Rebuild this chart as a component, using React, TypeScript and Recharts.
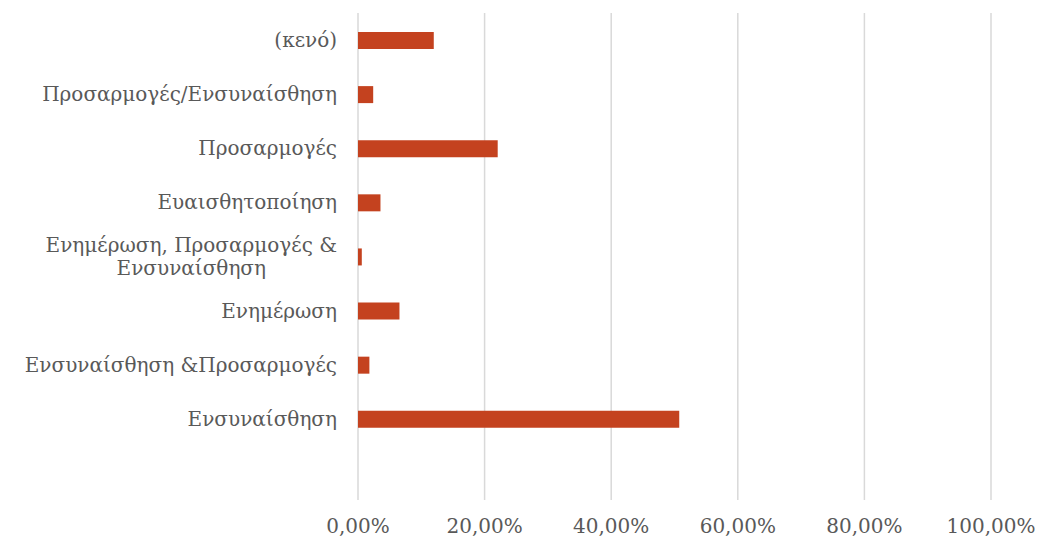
import React from 'react';
import { BarChart, Bar, XAxis, YAxis, CartesianGrid } from 'recharts';

const categories = [
  '(κενό)',
  'Προσαρμογές/Ενσυναίσθηση',
  'Προσαρμογές',
  'Ευαισθητοποίηση',
  'Ενημέρωση, Προσαρμογές &\nΕνσυναίσθηση',
  'Ενημέρωση',
  'Ενσυναίσθηση &Προσαρμογές',
  'Ενσυναίσθηση',
  '',
];
const shares = [0.1197, 0.024, 0.2207, 0.0355, 0.006, 0.0655, 0.018, 0.5075, null];
const xTicks = [0, 0.2, 0.4, 0.6, 0.8, 1];

const data = categories.map((name, i) => ({ name, value: shares[i] }));

const FONT = '"DejaVu Serif", serif';
const FONT_SIZE = 20;
const TEXT = '#595959';

let ctx: CanvasRenderingContext2D | null = null;
const measure = (s: string) => {
  if (!ctx) {
    ctx = document.createElement('canvas').getContext('2d');
    if (ctx) ctx.font = `${FONT_SIZE}px "DejaVu Serif"`;
  }
  return ctx ? ctx.measureText(s).width : s.length * 11;
};

const CategoryTick = (props: any) => {
  const { x, y, payload } = props;
  const lines: string[] = String(payload.value).split('\n');
  if (lines.length === 1) {
    return (
      <text x={x} y={y} dy={7} textAnchor="end" fill={TEXT} fontSize={FONT_SIZE} fontFamily={FONT}>
        {lines[0]}
      </text>
    );
  }
  const widest = Math.max(...lines.map(measure));
  const cx = x - widest / 2;
  const lh = 23;
  const start = y + 7 - ((lines.length - 1) * lh) / 2;
  return (
    <text textAnchor="middle" fill={TEXT} fontSize={FONT_SIZE} fontFamily={FONT}>
      {lines.map((l, i) => (
        <tspan key={i} x={cx} y={start + i * lh}>
          {l}
        </tspan>
      ))}
    </text>
  );
};

const pct = (v: number) => (v * 100).toFixed(2).replace('.', ',') + '%';

export default function App() {
  return (
    <div style={{ position: 'absolute', left: 0, top: 0, width: 1039, height: 539, background: '#fff' }}>
      <BarChart
        width={1039}
        height={539}
        data={data}
        layout="vertical"
        margin={{ top: 13, right: 48, bottom: 0, left: 0 }}
        barCategoryGap={0}
      >
        <CartesianGrid horizontal={false} stroke="#D9D9D9" strokeWidth={1.5} />
        <XAxis
          type="number"
          domain={[0, 1]}
          ticks={xTicks}
          tickFormatter={pct}
          axisLine={false}
          tickLine={false}
          height={39}
          tick={{ fill: TEXT, fontSize: FONT_SIZE, fontFamily: FONT }}
          dy={11}
        />
        <YAxis
          type="category"
          dataKey="name"
          width={358}
          axisLine={false}
          tickLine={false}
          interval={0}
          tickMargin={15}
          tick={<CategoryTick />}
        />
        <Bar dataKey="value" fill="#C4421F" barSize={17} isAnimationActive={false} />
      </BarChart>
    </div>
  );
}
